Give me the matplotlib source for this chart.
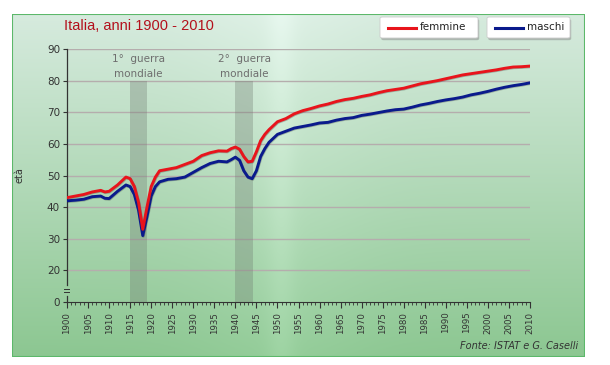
import matplotlib.pyplot as plt
import matplotlib.patheffects as pe
from matplotlib.patches import FancyBboxPatch, Rectangle
import numpy as np

years = [1900, 1902, 1904, 1906, 1908, 1909, 1910, 1912, 1914, 1915, 1916, 1917,
         1918, 1919, 1920, 1921, 1922, 1924, 1926, 1928, 1930, 1932, 1934, 1936,
         1938, 1939, 1940, 1941, 1942, 1943, 1944, 1945, 1946, 1947, 1948, 1950,
         1952, 1954, 1956, 1958, 1960, 1962, 1964, 1966, 1968, 1970, 1972, 1974,
         1976, 1978, 1980, 1982, 1984, 1986, 1988, 1990, 1992, 1994, 1996, 1998,
         2000, 2002, 2004, 2006, 2008, 2010]

femmine = [43.0, 43.5, 44.0, 44.8, 45.3, 44.8, 45.0, 47.0, 49.5, 49.0, 46.5, 41.5,
           33.0, 40.0, 46.5, 49.5, 51.5, 52.0, 52.5, 53.5, 54.5, 56.3, 57.2, 57.8,
           57.7, 58.5, 59.0, 58.3, 56.0, 54.3, 54.5, 57.5, 61.0, 63.0, 64.5, 67.0,
           68.0, 69.5, 70.5, 71.2, 72.0, 72.6, 73.4, 74.0, 74.4, 75.0, 75.5, 76.2,
           76.8, 77.2, 77.6, 78.3, 79.0, 79.5, 80.0, 80.6, 81.2, 81.8, 82.2, 82.6,
           83.0, 83.4, 83.9, 84.3, 84.4, 84.6]

maschi = [42.0, 42.2, 42.5, 43.3, 43.5, 42.8, 42.7, 45.0, 47.0, 46.5, 44.0, 39.0,
          31.0, 37.0, 43.5, 46.5, 48.0, 48.8, 49.0, 49.5, 51.0, 52.5, 53.8, 54.5,
          54.3, 55.0, 55.8, 54.8, 51.5, 49.5, 49.0, 51.5, 56.0, 58.5, 60.5, 63.0,
          64.0, 65.0, 65.5, 66.0, 66.6, 66.8, 67.5, 68.0, 68.3, 69.0, 69.4, 69.9,
          70.4, 70.8, 71.0, 71.6, 72.3, 72.8, 73.4, 73.9, 74.3, 74.8, 75.5, 76.0,
          76.6, 77.3, 77.9, 78.4, 78.8, 79.3]

guerre = [(1915, 1919, "1°  guerra\nmondiale"), (1940, 1944.3, "2°  guerra\nmondiale")]

y_ticks = [20, 30, 40, 50, 60, 70, 80, 90]
x_ticks = list(range(1900, 2011, 5))

W, H = 610, 365
fig = plt.figure(figsize=(W / 100, H / 100), dpi=100)
fig.patch.set_facecolor("white")

# sfondo a gradiente verde
bg = fig.add_axes([12 / W, 1 - 357 / H, (585 - 12) / W, (357 - 14) / H])
ny, nx = 200, 400
t = np.linspace(0, 1, ny)[:, None]
top = np.array([0.84, 0.92, 0.87])
bot = np.array([0.55, 0.78, 0.57])
img = top[None, None, :] * (1 - t[..., None]) + bot[None, None, :] * t[..., None]
img = np.repeat(img, nx, axis=1)
xx = np.linspace(0, 1, nx)
streak = 0.06 * np.exp(-((xx - 0.47) / 0.025) ** 2) + 0.05 * np.exp(-((xx - 0.47) / 0.15) ** 2)
img = np.clip(img + streak[None, :, None] * np.array([0.6, 0.45, 0.6]), 0, 1)
bg.imshow(img, aspect="auto", extent=[0, 1, 0, 1])
bg.add_patch(Rectangle((0, 0), 1, 1, fill=False, ec="#5cb86a", lw=1.5, transform=bg.transAxes))
bg.set_axis_off()

ax = fig.add_axes([67 / W, 1 - 302 / H, (530 - 67) / W, (302 - 49) / H])
ax.set_facecolor("none")
ax.set_xlim(1900, 2010)
ax.set_ylim(10, 90)

for y in y_ticks:
    ax.axhline(y, color="#b5adad", lw=1, zorder=1)

for x0, x1, lab in guerre:
    ax.axvspan(x0, x1, ymin=0, ymax=(80 - 10) / 80, color="#6f7a70", alpha=0.33, lw=0, zorder=2)
    ax.text((x0 + x1) / 2, 88.5, lab, ha="center", va="top", fontsize=7.5,
            color="#6e6e6e", linespacing=1.6)

shadow = [pe.SimpleLineShadow(offset=(0.4, -0.5), shadow_color="#333333", alpha=0.3), pe.Normal()]
ax.plot(years, maschi, color="#0a1a8c", lw=2.1, zorder=4, path_effects=shadow)
ax.plot(years, femmine, color="#e8141c", lw=2.1, zorder=5, path_effects=shadow)

for s in ["top", "right", "left"]:
    ax.spines[s].set_visible(False)
ax.spines["bottom"].set_color("#333333")

# asse y spezzato
yax = ax.get_yaxis_transform()
ax.plot([0, 0], [15.4, 90], transform=yax, color="#333333", lw=0.9, clip_on=False)
ax.plot([0, 0], [10, 11.9], transform=yax, color="#333333", lw=0.9, clip_on=False)
for yb in (13.2, 14.1):
    ax.plot([-0.006, 0.004], [yb, yb], transform=yax, color="#333333", lw=0.7, clip_on=False)

ax.set_yticks([10] + y_ticks)
ax.set_yticklabels(["0"] + [str(v) for v in y_ticks])
ax.tick_params(axis="y", labelsize=7.5, length=3, colors="#333333", pad=2)
ax.set_xticks(x_ticks)
ax.set_xticklabels([str(v) for v in x_ticks], rotation=90)
ax.set_xticks(range(1900, 2011), minor=True)
ax.tick_params(axis="x", which="major", labelsize=6.2, length=4, colors="#333333", pad=3)
ax.tick_params(axis="x", which="minor", length=2.5, color="#333333")
ax.set_ylabel("età", fontsize=7, color="#333333", labelpad=16)

fig.text(64 / W, 1 - 25.5 / H, "Italia, anni 1900 - 2010", fontsize=10.5, color="#b3101c",
         ha="left", va="center", family="Liberation Sans")

# legenda a riquadri
for x0, x1, col, lab in [(380, 478, "#e8141c", "femmine"), (487, 570, "#0a1a8c", "maschi")]:
    fig.patches.append(FancyBboxPatch((x0 / W + 0.002, 1 - 38 / H - 0.006), (x1 - x0) / W, 21 / H,
                                      boxstyle="round,pad=0,rounding_size=0.004",
                                      transform=fig.transFigure, fc="#888888", ec="none", alpha=0.5))
    fig.patches.append(FancyBboxPatch((x0 / W, 1 - 38 / H), (x1 - x0) / W, 21 / H,
                                      boxstyle="round,pad=0,rounding_size=0.004",
                                      transform=fig.transFigure, fc="white", ec="#cccccc", lw=0.6))
    fig.lines.append(plt.Line2D([(x0 + 8) / W, (x0 + 36) / W], [1 - 27.5 / H] * 2,
                                transform=fig.transFigure, color=col, lw=2.2))
    fig.text((x0 + 40) / W, 1 - 27.5 / H, lab, fontsize=7.5, color="#222222",
             ha="left", va="center")

fig.text(578 / W, 1 - 346 / H, "Fonte: ISTAT e G. Caselli", fontsize=7, style="italic",
         color="#333333", ha="right", va="center")

fig.savefig("out.png", dpi=100)
